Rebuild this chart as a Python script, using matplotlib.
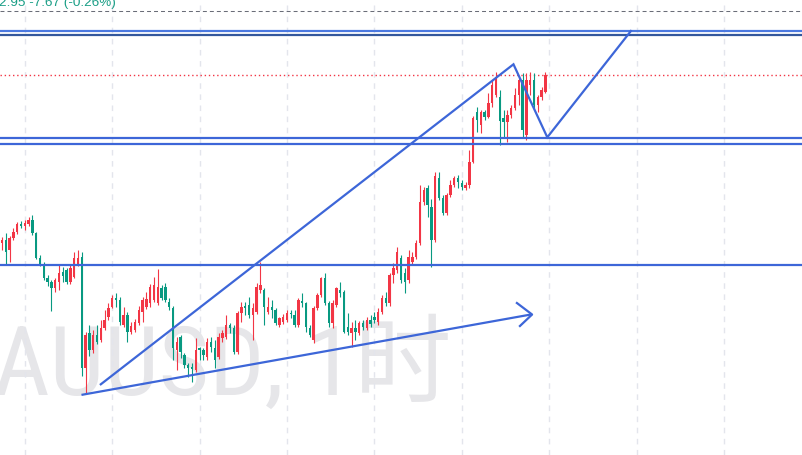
import numpy as np
import matplotlib.pyplot as plt

# hourly XAUUSD candles (red = up, green = down, Chinese convention)
opens = [2757, 2760, 2750, 2762, 2768, 2776, 2774, 2776, 2780, 2767,
         2742, 2736, 2722, 2718, 2712, 2718, 2728, 2730, 2718, 2723,
         2736, 2743, 2632, 2667, 2650, 2665, 2660, 2672, 2683, 2693,
         2702, 2700, 2675, 2685, 2668, 2670, 2677, 2688, 2693, 2697,
         2700, 2697, 2712, 2713, 2698, 2692, 2650, 2663, 2645, 2635,
         2633, 2630, 2652, 2650, 2643, 2658, 2652, 2643, 2662, 2663,
         2675, 2672, 2648, 2687, 2694, 2695, 2685, 2688, 2710, 2710,
         2688, 2693, 2690, 2675, 2678, 2680, 2687, 2685, 2675, 2699,
         2697, 2672, 2660, 2692, 2705, 2722, 2697, 2677, 2695, 2710,
         2708, 2673, 2667, 2672, 2667, 2677, 2672, 2680, 2683, 2678,
         2688, 2702, 2697, 2725, 2730, 2742, 2727, 2720, 2738, 2743,
         2757, 2798, 2812, 2793, 2760, 2822, 2802, 2787, 2805, 2815,
         2822, 2817, 2812, 2815, 2838, 2888, 2875, 2888, 2883, 2897,
         2905, 2903, 2882, 2878, 2885, 2892, 2905, 2920, 2865, 2915,
         2920, 2895, 2903, 2908]
highs = [2763, 2767, 2764, 2772, 2778, 2779, 2780, 2783, 2785, 2768,
         2745, 2738, 2725, 2720, 2722, 2735, 2733, 2732, 2735, 2748,
         2750, 2748, 2668, 2675, 2670, 2675, 2680, 2690, 2697, 2705,
         2707, 2703, 2693, 2688, 2678, 2681, 2694, 2703, 2708, 2716,
         2723, 2731, 2715, 2717, 2702, 2694, 2663, 2665, 2647, 2637,
         2637, 2662, 2653, 2652, 2662, 2663, 2660, 2667, 2670, 2685,
         2677, 2675, 2689, 2698, 2698, 2703, 2697, 2717, 2738, 2712,
         2703, 2700, 2692, 2683, 2686, 2690, 2690, 2690, 2702, 2707,
         2698, 2675, 2694, 2707, 2723, 2727, 2699, 2700, 2713, 2718,
         2710, 2687, 2678, 2680, 2679, 2680, 2683, 2685, 2688, 2692,
         2705, 2708, 2727, 2737, 2753, 2745, 2732, 2750, 2748, 2760,
         2815, 2813, 2815, 2801, 2828, 2828, 2805, 2807, 2820, 2824,
         2825, 2820, 2818, 2850, 2884, 2893, 2890, 2890, 2907, 2920,
         2928, 2910, 2890, 2890, 2895, 2912, 2924, 2927, 2927, 2928,
         2927, 2905, 2913, 2928]
lows = [2750, 2735, 2738, 2760, 2766, 2772, 2770, 2774, 2765, 2741,
        2734, 2720, 2714, 2689, 2708, 2710, 2718, 2716, 2716, 2722,
        2734, 2624, 2607, 2644, 2647, 2656, 2658, 2670, 2680, 2692,
        2693, 2675, 2673, 2658, 2666, 2668, 2675, 2678, 2691, 2693,
        2698, 2695, 2700, 2698, 2690, 2640, 2630, 2642, 2632, 2623,
        2618, 2628, 2640, 2640, 2640, 2648, 2632, 2641, 2658, 2661,
        2667, 2646, 2646, 2678, 2685, 2682, 2660, 2686, 2707, 2675,
        2686, 2682, 2675, 2673, 2676, 2678, 2682, 2673, 2673, 2693,
        2668, 2663, 2657, 2690, 2703, 2695, 2673, 2672, 2693, 2703,
        2667, 2665, 2653, 2660, 2665, 2670, 2670, 2673, 2677, 2675,
        2686, 2694, 2694, 2717, 2727, 2717, 2707, 2717, 2735, 2741,
        2755, 2795, 2783, 2733, 2758, 2800, 2785, 2785, 2803, 2813,
        2812, 2810, 2810, 2812, 2837, 2868, 2867, 2880, 2882, 2893,
        2903, 2855, 2862, 2858, 2882, 2890, 2895, 2863, 2860, 2905,
        2892, 2888, 2900, 2907]
closes = [2760, 2748, 2762, 2768, 2776, 2774, 2777, 2780, 2767, 2742,
          2736, 2722, 2718, 2712, 2720, 2727, 2724, 2718, 2732, 2742,
          2742, 2632, 2665, 2650, 2665, 2658, 2672, 2680, 2692, 2702,
          2700, 2678, 2685, 2668, 2674, 2678, 2690, 2700, 2701, 2713,
          2715, 2713, 2702, 2700, 2693, 2652, 2658, 2648, 2635, 2632,
          2631, 2650, 2650, 2645, 2658, 2653, 2640, 2663, 2667, 2675,
          2672, 2648, 2687, 2693, 2692, 2685, 2692, 2713, 2715, 2693,
          2693, 2690, 2677, 2682, 2683, 2687, 2686, 2675, 2700, 2697,
          2673, 2665, 2692, 2705, 2722, 2697, 2677, 2697, 2712, 2707,
          2668, 2668, 2672, 2668, 2677, 2673, 2680, 2676, 2680, 2688,
          2702, 2697, 2725, 2732, 2748, 2720, 2718, 2743, 2743, 2757,
          2798, 2810, 2795, 2760, 2824, 2802, 2787, 2805, 2815, 2822,
          2818, 2813, 2815, 2838, 2882, 2880, 2888, 2883, 2897, 2915,
          2923, 2879, 2878, 2885, 2892, 2905, 2920, 2870, 2920, 2920,
          2895, 2903, 2910, 2925]

# drawings: horizontal levels, zigzag path, rising support with arrow
level_prices = [2969, 2965, 2862.5, 2856, 2735]
level_colors = ['#4a78e0', '#33579c', '#3d66d8', '#3d66d8', '#3d66d8']
zigzag_x = [26.0, 134.6, 143.5, 165.5]
zigzag_y = [2615.7, 2935.7, 2862.7, 2969]
support_x = [21.2, 139.2]
support_y = [2605.3, 2685.5]
arrow_x = [135.5, 139.5, 136.3]
arrow_y = [2697, 2685.5, 2674]
day_starts = [6, 29, 52, 75, 98, 121, 144, 167, 190]
prev_close = 2989

UP = '#f23645'
DOWN = '#089981'
BLUE = '#3d66d8'

fig = plt.figure(figsize=(8.03, 4.55), dpi=100)
ax = fig.add_axes([0, 0, 1, 1])
ax.set_xlim(-0.526, 210.79)
ax.set_ylim(2545, 3000)
for s in ax.spines.values():
    s.set_visible(False)
ax.set_xticks(day_starts)
ax.set_yticks([])
ax.tick_params(length=0, labelbottom=False)
ax.grid(axis='x', color='#e3e5ec', linestyle=(0, (4, 4)), lw=1.0)
ax.set_axisbelow(True)

# symbol watermark (left part cut off by the pane edge)
ax.text(118.2, 2605, 'XAUUSD, 1时', fontsize=70, color='#e6e6e9',
        family=['Roboto Condensed', 'Noto Sans CJK SC'], ha='right', va='baseline', zorder=0.5)

o = np.array(opens, float)
h = np.array(highs, float)
l = np.array(lows, float)
c = np.array(closes, float)
idx = np.arange(len(o))
cols = np.where(c >= o, UP, DOWN)
ax.vlines(idx, l, h, colors=cols, lw=0.8, zorder=2)
body = np.maximum(np.abs(c - o), 1.0)
ax.bar(idx, body, bottom=np.minimum(o, c), width=0.68, color=cols, lw=0, zorder=2.1)

ax.axhline(prev_close, color='#6a6d78', lw=0.75, linestyle=(0, (3.8, 2.9)), zorder=1)
ax.axhline(c[-1], color=UP, lw=1.0, linestyle=(0, (1, 2)), zorder=1)

for p, col in zip(level_prices, level_colors):
    ax.axhline(p, color=col, lw=1.6, zorder=3)
ax.plot(zigzag_x, zigzag_y, color=BLUE, lw=1.6, zorder=3, solid_joinstyle='miter')
ax.plot(support_x, support_y, color=BLUE, lw=1.6, zorder=3)
ax.plot(arrow_x, arrow_y, color=BLUE, lw=1.6, zorder=3)

fig.text(-0.001, 1 - 6 / 455, '2.95 -7.67 (-0.26%)', color='#1a9e86', fontsize=9.7,
         family='Liberation Sans', ha='left', va='baseline')

fig.savefig('out.png', dpi=100)
